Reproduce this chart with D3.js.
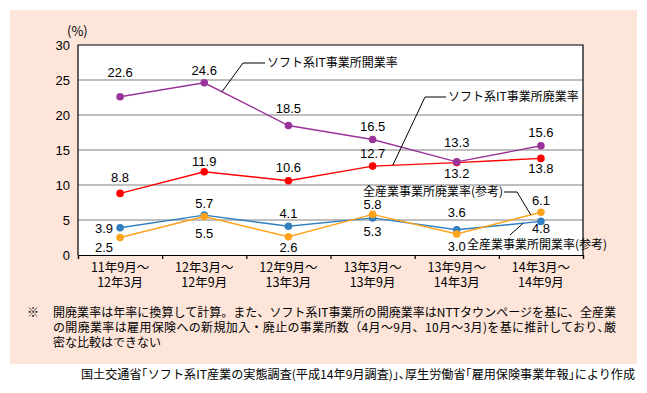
<!DOCTYPE html>
<html>
<head>
<meta charset="utf-8">
<script src="https://cdn.jsdelivr.net/npm/d3@7"></script>
<style>
	body { margin: 0; background: #fff; }
	svg text { font-family: "Noto Sans CJK JP", "DejaVu Sans", sans-serif; fill: #000; }
	svg text.num { font-family: "Liberation Sans", Arial, sans-serif; }
</style>
</head>
<body>
<svg id="chart" width="647" height="393"></svg>
<script>
(function() {

	// data
	var periods = [
		['11年9月～', '12年3月'],
		['12年3月～', '12年9月'],
		['12年9月～', '13年3月'],
		['13年3月～', '13年9月'],
		['13年9月～', '14年3月'],
		['14年3月～', '14年9月']
	];
	var softOpen = [22.6, 24.6, 18.5, 16.5, 13.3, 15.6];
	var softClose = [8.8, 11.9, 10.6, 12.7, 13.2, 13.8];
	var allOpen = [3.9, 5.7, 4.1, 5.3, 3.6, 4.8];
	var allClose = [2.5, 5.5, 2.6, 5.8, 3.0, 6.1];
	var yTicks = [0, 5, 10, 15, 20, 25, 30];

	var noteLines = [
		'開廃業率は年率に換算して計算。また、ソフト系IT事業所の開廃業率はNTTタウンページを基に、全産業',
		'の開廃業率は雇用保険への新規加入・廃止の事業所数（4月～9月、10月～3月)を基に推計しており､厳',
		'密な比較はできない'
	];
	var source = '国土交通省｢ソフト系IT産業の実態調査(平成14年9月調査)｣､厚生労働省｢雇用保険事業年報｣により作成';

	// label placement (offset in px from the point)
	var series = [
		{ values: allOpen, color: '#2f7fc1', dy: [1, -12, -13, 14, -17, 7], dx: [-16, 0, 0, 0, 0, 0] },
		{ values: allClose, color: '#ffa31a', dy: [9.5, 17, 11, -10, 12, -12], dx: [-16, 0, 0, 0, 0, 0] },
		{ values: softClose, color: '#ff0000', dy: [-16, -10, -13, -13, 11, 10], dx: [0, 0, 0, 0, 0, 0] },
		{ values: softOpen, color: '#993399', dy: [-24, -12, -17, -13, -19, -13], dx: [0, 0, 0, 0, 0, 0] }
	];

	var svg = d3.select('#chart');
	var PLOT = { left: 78, right: 583, top: 45, bottom: 255 };

	svg.append('rect').attr('x', 10).attr('y', 10).attr('width', 627).attr('height', 354).attr('fill', '#fde5da');
	svg.append('rect').attr('x', PLOT.left).attr('y', PLOT.top)
		.attr('width', PLOT.right - PLOT.left).attr('height', PLOT.bottom - PLOT.top).attr('fill', '#fff');

	var xBand = d3.scaleBand().domain(d3.range(periods.length)).range([PLOT.left, PLOT.right]);
	var x = function(i) { return xBand(i) + xBand.bandwidth() / 2; };
	var y = d3.scaleLinear().domain([0, 30]).range([PLOT.bottom, PLOT.top]);

	// grid
	svg.append('g').selectAll('line').data(yTicks.filter(function(d) { return d > 0 && d < 30; }))
		.enter().append('line')
		.attr('x1', PLOT.left).attr('x2', PLOT.right)
		.attr('y1', function(d) { return y(d); }).attr('y2', function(d) { return y(d); })
		.attr('stroke', '#808080').attr('stroke-width', 1.2);

	// frame
	svg.append('path')
		.attr('d', 'M' + PLOT.left + ',' + PLOT.bottom + 'V' + PLOT.top + 'H' + PLOT.right + 'V' + PLOT.bottom)
		.attr('fill', 'none').attr('stroke', '#000').attr('stroke-width', 1.2);

	// y axis
	var yAxis = svg.append('g').attr('transform', 'translate(' + PLOT.left + ',0)')
		.call(d3.axisLeft(y).tickValues(yTicks).tickSize(0).tickPadding(8));
	yAxis.select('.domain').remove();
	yAxis.selectAll('text').attr('class', 'num').style('font-size', '13px').attr('fill', '#000');

	svg.append('text').attr('x', 67).attr('y', 31).attr('dy', '0.35em')
		.style('font-size', '13px').text('(%)');

	// x axis: ticks at category boundaries
	var xb = d3.scaleLinear().domain([0, periods.length]).range([PLOT.left, PLOT.right]);
	var xAxis = svg.append('g').attr('transform', 'translate(0,' + PLOT.bottom + ')')
		.call(d3.axisBottom(xb).ticks(periods.length).tickSize(4).tickFormat(''));
	xAxis.selectAll('path, line').attr('stroke', '#000').attr('stroke-width', 1.2);

	var xl = svg.append('g').selectAll('text').data(periods).enter().append('text')
		.attr('text-anchor', 'middle').style('font-size', '12.5px');
	xl.append('tspan').attr('x', function(d, i) { return x(i); }).attr('y', 268).attr('dy', '0.35em')
		.text(function(d) { return d[0]; });
	xl.append('tspan').attr('x', function(d, i) { return x(i); }).attr('y', 283).attr('dy', '0.35em')
		.text(function(d) { return d[1]; });

	// lines
	var line = d3.line().x(function(d, i) { return x(i); }).y(function(d) { return y(d); });
	series.forEach(function(s) {
		var g = svg.append('g');
		g.append('path').datum(s.values).attr('d', line)
			.attr('fill', 'none').attr('stroke', s.color).attr('stroke-width', 1.4);
		g.selectAll('circle').data(s.values).enter().append('circle')
			.attr('cx', function(d, i) { return x(i); }).attr('cy', function(d) { return y(d); })
			.attr('r', 3.8).attr('fill', s.color);
		g.selectAll('text').data(s.values).enter().append('text').attr('class', 'num')
			.attr('x', function(d, i) { return x(i) + s.dx[i]; })
			.attr('y', function(d, i) { return y(d) + s.dy[i]; })
			.attr('dy', '0.35em').attr('text-anchor', 'middle').style('font-size', '13px')
			.text(function(d) { return d.toFixed(1); });
	});

	// leader annotations
	function onLine(vals, i, t) {
		return [x(i) + (x(i + 1) - x(i)) * t, y(vals[i] + (vals[i + 1] - vals[i]) * t)];
	}
	function leader(pts, label, tx, ty, anchor) {
		svg.append('path').attr('d', d3.line()(pts)).attr('fill', 'none').attr('stroke', '#000').attr('stroke-width', 1);
		svg.append('text').attr('x', tx).attr('y', ty).attr('dy', '0.35em')
			.attr('text-anchor', anchor).style('font-size', '12px').text(label);
	}
	var a1 = onLine(softOpen, 1, 0.21);
	leader([a1, [243, 63], [265, 63]], 'ソフト系IT事業所開業率', 267, 63, 'start');
	var a2 = onLine(softClose, 3, 0.24);
	leader([a2, [425, 97], [446, 97]], 'ソフト系IT事業所廃業率', 448, 97, 'start');
	var a3 = onLine(allClose, 4, 0.88);
	leader([a3, [517, 192], [504, 192]], '全産業事業所廃業率(参考)', 503, 192, 'end');
	var a4 = onLine(allOpen, 4, 0.79);
	leader([a4, [510, 235]], '全産業事業所開業率(参考)', 467, 245, 'start');

	// notes
	svg.append('text').attr('x', 27).attr('y', 313).attr('dy', '0.35em').style('font-size', '12px').text('※');
	svg.append('g').selectAll('text').data(noteLines).enter().append('text')
		.attr('x', 53).attr('y', function(d, i) { return 313 + i * 15; }).attr('dy', '0.35em')
		.attr('textLength', function(d, i) { return i < 2 ? 563 : null; })
		.attr('lengthAdjust', 'spacing')
		.style('font-size', '12px').text(function(d) { return d; });
	svg.append('text').attr('x', 81).attr('y', 375).attr('dy', '0.35em')
		.attr('textLength', 554).attr('lengthAdjust', 'spacingAndGlyphs')
		.style('font-size', '12px').text(source);
}());
</script>
</body>
</html>
